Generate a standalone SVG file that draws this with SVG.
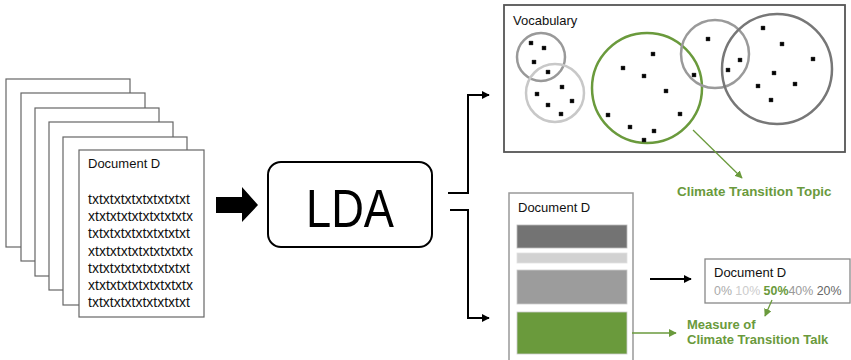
<svg xmlns="http://www.w3.org/2000/svg" width="851" height="360" viewBox="0 0 851 360">
<style>
text{font-family:"Liberation Sans",Arial,sans-serif;}
.page{fill:#fff;stroke:#666;stroke-width:1.2;}
.txt{font-size:14px;fill:#111;}
.lbl{font-size:13px;fill:#111;}
.green{fill:#6a9a3c;font-weight:bold;}
.conn{fill:none;stroke:#000;stroke-width:2;}
.gline{fill:none;stroke:#6a9a3c;stroke-width:1.3;}
.circ{fill:none;stroke-width:2.5;}
</style>
<defs>
<marker id="ah" viewBox="0 0 10 10" refX="9" refY="5" markerWidth="4" markerHeight="4" orient="auto" markerUnits="strokeWidth">
<path d="M0,0 L10,5 L0,10 z" fill="#000"/>
</marker>
<marker id="gh" viewBox="0 0 10 10" refX="9" refY="5" markerWidth="6" markerHeight="6" orient="auto" markerUnits="strokeWidth">
<path d="M0,0 L10,5 L0,10 z" fill="#6a9a3c"/>
</marker>
<path id="dot" d="M-1.8,-1.8 L1.8,1.8 M1.8,-1.8 L-1.8,1.8" stroke="#000" stroke-width="2.3" fill="none"/>
</defs>

<g id="docs">
<rect class="page" x="6" y="79" width="124" height="168"/>
<rect class="page" x="21" y="93" width="124" height="168"/>
<rect class="page" x="35" y="108" width="124" height="168"/>
<rect class="page" x="49" y="122" width="124" height="168"/>
<rect class="page" x="63" y="137" width="124" height="168"/>
<rect class="page" x="79" y="150" width="125" height="167"/>
<text class="lbl" x="88" y="168">Document D</text>
<text class="txt" x="88" y="204">txtxtxtxtxtxtxtxtxt</text>
<text class="txt" x="88" y="221">xtxtxtxtxtxtxtxtxtx</text>
<text class="txt" x="88" y="238">txtxtxtxtxtxtxtxtxt</text>
<text class="txt" x="88" y="256">xtxtxtxtxtxtxtxtxtx</text>
<text class="txt" x="88" y="273">txtxtxtxtxtxtxtxtxt</text>
<text class="txt" x="88" y="290">xtxtxtxtxtxtxtxtxtx</text>
<text class="txt" x="88" y="307">txtxtxtxtxtxtxtxtxt</text>
</g>

<g id="lda">
<rect x="268" y="162" width="164" height="85" rx="13" fill="#fff" stroke="#000" stroke-width="2"/>
<text x="350" y="227" text-anchor="middle" font-size="54" textLength="88" lengthAdjust="spacingAndGlyphs" fill="#000">LDA</text>
</g>

<g id="vocab">
<rect x="504" y="5" width="341" height="147" fill="#fff" stroke="#555" stroke-width="1.8"/>
<text class="lbl" x="513" y="25">Vocabulary</text>
<circle class="circ" cx="541" cy="57" r="24" stroke="#999"/>
<circle class="circ" cx="555" cy="93" r="29" stroke="#c8c8c8"/>
<circle class="circ" cx="647" cy="88" r="55" stroke="#6a9a3c" stroke-width="3"/>
<circle class="circ" cx="715" cy="54" r="34" stroke="#9a9a9a"/>
<circle class="circ" cx="777" cy="69" r="55" stroke="#777"/>
<use href="#dot" x="531" y="43"/><use href="#dot" x="544" y="48"/><use href="#dot" x="534" y="62"/><use href="#dot" x="548" y="72"/>
<use href="#dot" x="562" y="87"/><use href="#dot" x="537" y="94"/><use href="#dot" x="572" y="101"/><use href="#dot" x="548" y="105"/><use href="#dot" x="561" y="114"/>
<use href="#dot" x="653" y="54"/><use href="#dot" x="623" y="68"/><use href="#dot" x="644" y="76"/><use href="#dot" x="666" y="91"/><use href="#dot" x="608" y="115"/><use href="#dot" x="680" y="114"/><use href="#dot" x="630" y="127"/><use href="#dot" x="654" y="131"/><use href="#dot" x="644" y="140"/>
<use href="#dot" x="708" y="39"/><use href="#dot" x="740" y="60"/><use href="#dot" x="728" y="70"/><use href="#dot" x="694" y="75"/>
<use href="#dot" x="763" y="28"/><use href="#dot" x="782" y="44"/><use href="#dot" x="813" y="59"/><use href="#dot" x="774" y="73"/><use href="#dot" x="758" y="86"/><use href="#dot" x="795" y="84"/><use href="#dot" x="771" y="100"/>
</g>

<g id="topic-label">
<text class="green" x="677" y="196" font-size="13.4">Climate Transition Topic</text>
</g>

<g id="doc-bars">
<rect x="509" y="193" width="124" height="175" fill="#fff" stroke="#999" stroke-width="1.5"/>
<text class="lbl" x="518" y="212">Document D</text>
<rect x="517" y="225" width="110" height="23" fill="#737373" stroke="#bbb" stroke-width="0.8"/>
<rect x="517" y="253" width="110" height="10" fill="#d2d2d2" stroke="#e0e0e0" stroke-width="0.8"/>
<rect x="517" y="270" width="110" height="34" fill="#9c9c9c" stroke="#ccc" stroke-width="0.8"/>
<rect x="517" y="312" width="110" height="42" fill="#6a9a3c" stroke="#ccc" stroke-width="0.8"/>
</g>

<g id="doc-share">
<rect x="705" y="259" width="145" height="44" fill="#fff" stroke="#888" stroke-width="1.3"/>
<text class="lbl" x="714" y="277">Document D</text>
<text x="714" y="295" font-size="12.4"><tspan fill="#aaa">0% </tspan><tspan fill="#ccc">10% </tspan><tspan fill="#6a9a3c" font-weight="bold">50%</tspan><tspan fill="#999">40% </tspan><tspan fill="#666">20%</tspan></text>
</g>

<g id="talk-label">
<text class="green" x="687" y="329" font-size="13">Measure of</text>
<text class="green" x="687" y="344" font-size="13">Climate Transition Talk</text>
</g>

<g id="connectors">
<polygon points="216,197 242,197 242,187 258,205 242,222 242,213 216,213" fill="#000"/>
<path class="conn" d="M448,193 H468 V95 H489" marker-end="url(#ah)"/>
<path class="conn" d="M450,210 H468 V318 H489" marker-end="url(#ah)"/>
<path class="conn" d="M650,279 H691" marker-end="url(#ah)"/>
<path class="gline" d="M693,130 L742,178" marker-end="url(#gh)"/>
<path class="gline" d="M772,300 L765,316" marker-end="url(#gh)"/>
<path class="gline" d="M632,333 L676,333" marker-end="url(#gh)"/>
</g>
</svg>
